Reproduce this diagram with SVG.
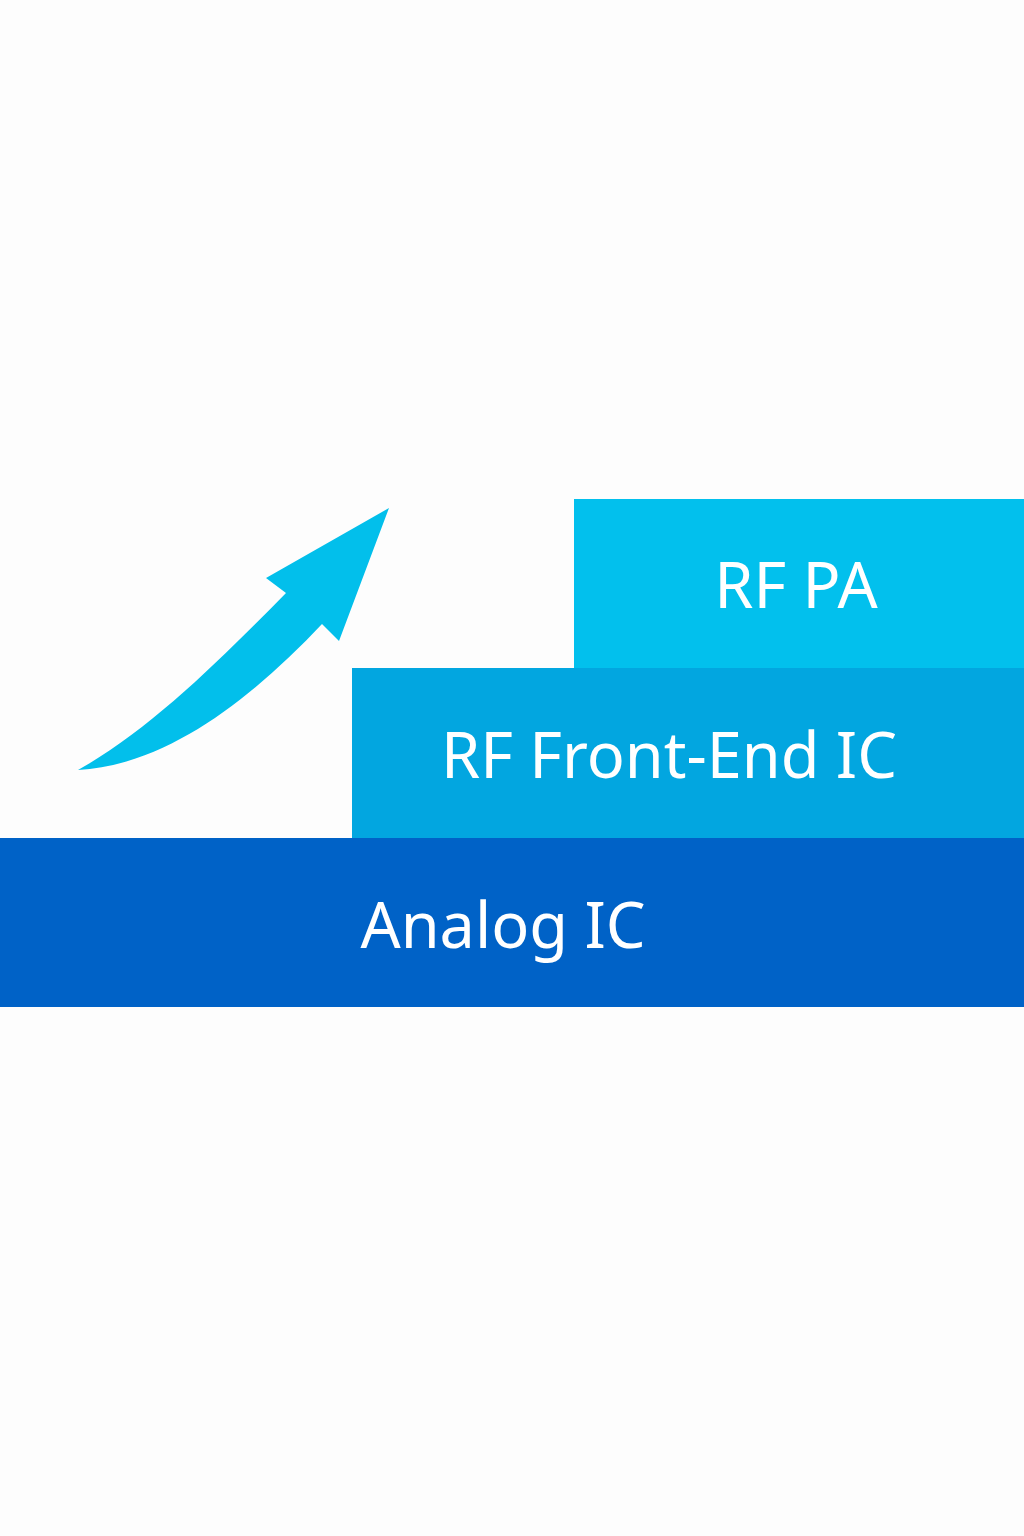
<svg xmlns="http://www.w3.org/2000/svg" width="1024" height="1536" viewBox="0 0 1024 1536">
  <style>
    .lbl { font-family: "Noto Sans", "Open Sans", sans-serif; font-size: 63px; fill: #ffffff; text-anchor: middle; }
  </style>
  <rect x="0" y="0" width="1024" height="1536" fill="#fdfdfd"/>
  <g id="analog-ic">
    <rect x="0" y="838" width="1024" height="169" fill="#0062c7"/>
    <text class="lbl" x="503" y="948">Analog IC</text>
  </g>
  <g id="rf-front-end-ic">
    <rect x="352" y="668" width="672" height="170" fill="#02a6e0"/>
    <text class="lbl" x="669" y="778">RF Front-End IC</text>
  </g>
  <g id="rf-pa">
    <rect x="574" y="499" width="450" height="169" fill="#02c0ed"/>
    <text class="lbl" x="796" y="608">RF PA</text>
  </g>
  <g id="growth-arrow">
    <path d="M389,508 L339,641 L322,624 C255,695 170,765 78,770 C150,730 220,660 286,593 L266,578 Z" fill="#02bfeb"/>
  </g>
  <g id="connectors"></g>
</svg>
